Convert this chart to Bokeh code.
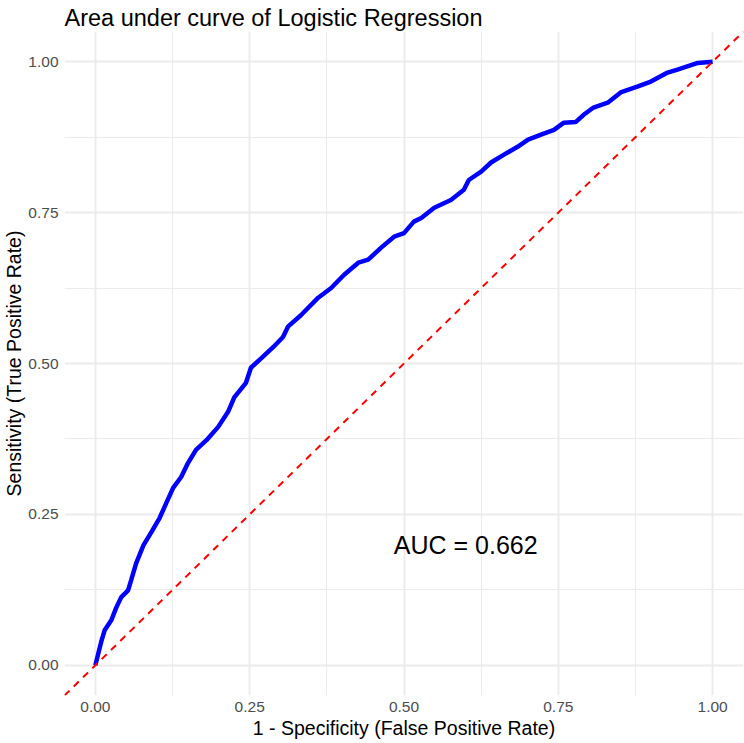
from bokeh.plotting import figure
from bokeh.models import Range1d, FixedTicker, NumeralTickFormatter, Slope, Label
from bokeh.embed import file_html
from bokeh.resources import INLINE

# ROC curve of the logistic regression model
fpr = [0.000, 0.010, 0.015, 0.026, 0.034, 0.042, 0.053, 0.058, 0.066, 0.078,
       0.091, 0.104, 0.115, 0.126, 0.139, 0.150, 0.163, 0.180, 0.199, 0.215,
       0.225, 0.244, 0.252, 0.269, 0.288, 0.304, 0.312, 0.333, 0.361, 0.382,
       0.403, 0.426, 0.442, 0.463, 0.484, 0.500, 0.516, 0.528, 0.549, 0.576,
       0.597, 0.605, 0.625, 0.641, 0.662, 0.684, 0.701, 0.722, 0.743, 0.759,
       0.778, 0.791, 0.807, 0.830, 0.851, 0.879, 0.900, 0.927, 0.943, 0.976,
       1.000]
tpr = [0.000, 0.041, 0.058, 0.075, 0.096, 0.113, 0.124, 0.141, 0.169, 0.199,
       0.221, 0.244, 0.269, 0.294, 0.312, 0.335, 0.357, 0.373, 0.395, 0.420,
       0.444, 0.468, 0.493, 0.509, 0.527, 0.544, 0.561, 0.580, 0.609, 0.625,
       0.647, 0.667, 0.672, 0.692, 0.710, 0.716, 0.735, 0.741, 0.758, 0.771,
       0.788, 0.804, 0.818, 0.833, 0.846, 0.859, 0.871, 0.879, 0.887, 0.899,
       0.900, 0.912, 0.924, 0.932, 0.949, 0.959, 0.967, 0.982, 0.987, 0.998,
       1.000]
auc_value = 0.662
major_ticks = [0.0, 0.25, 0.5, 0.75, 1.0]
minor_ticks = [0.125, 0.375, 0.625, 0.875]

FONT = "Liberation Sans"

p = figure(width=744, height=743, output_backend="svg", toolbar_location=None,
           x_range=Range1d(-0.05, 1.05), y_range=Range1d(-0.05, 1.05),
           min_border_left=63, min_border_right=1, min_border_top=31,
           min_border_bottom=48)
p.outline_line_color = None
p.background_fill_color = "white"
p.border_fill_color = "white"

p.title.text = "Area under curve of Logistic Regression"
p.title.text_font = FONT
p.title.text_font_size = "23.5px"
p.title.text_font_style = "normal"
p.title.text_color = "black"
p.title.offset = 0
p.title.standoff = 2

for ax in (p.xaxis[0], p.yaxis[0]):
    ax.ticker = FixedTicker(ticks=major_ticks, minor_ticks=minor_ticks)
    ax.formatter = NumeralTickFormatter(format="0.00")
    ax.axis_line_color = None
    ax.major_tick_line_color = None
    ax.minor_tick_line_color = None
    ax.major_tick_out = 0
    ax.major_tick_in = 0
    ax.minor_tick_out = 0
    ax.minor_tick_in = 0
    ax.major_label_text_font = FONT
    ax.major_label_text_font_size = "15.5px"
    ax.major_label_text_color = "#4D4D4D"
    ax.axis_label_text_font = FONT
    ax.axis_label_text_font_size = "19.5px"
    ax.axis_label_text_font_style = "normal"
    ax.axis_label_text_color = "black"

p.xaxis.axis_label = "1 - Specificity (False Positive Rate)"
p.yaxis.axis_label = "Sensitivity (True Positive Rate)"
p.xaxis.major_label_standoff = 6
p.xaxis.axis_label_standoff = 2
p.yaxis.major_label_standoff = 6
p.yaxis.axis_label_standoff = 0

for g in (p.xgrid[0], p.ygrid[0]):
    g.grid_line_color = "#EBEBEB"
    g.grid_line_width = 1.9
    g.minor_grid_line_color = "#EBEBEB"
    g.minor_grid_line_width = 1.0

p.line(fpr, tpr, line_color="blue", line_width=4.5)

diag = Slope(gradient=1, y_intercept=0, line_color="red", line_width=2,
             line_dash="7 6")
p.add_layout(diag)

p.add_layout(Label(x=0.6, y=0.2, text=f"AUC = {auc_value}",
                   text_font=FONT, text_font_size="25px",
                   text_align="center", text_baseline="middle",
                   text_color="black"))

open("out.html", "w").write(file_html(p, INLINE))
